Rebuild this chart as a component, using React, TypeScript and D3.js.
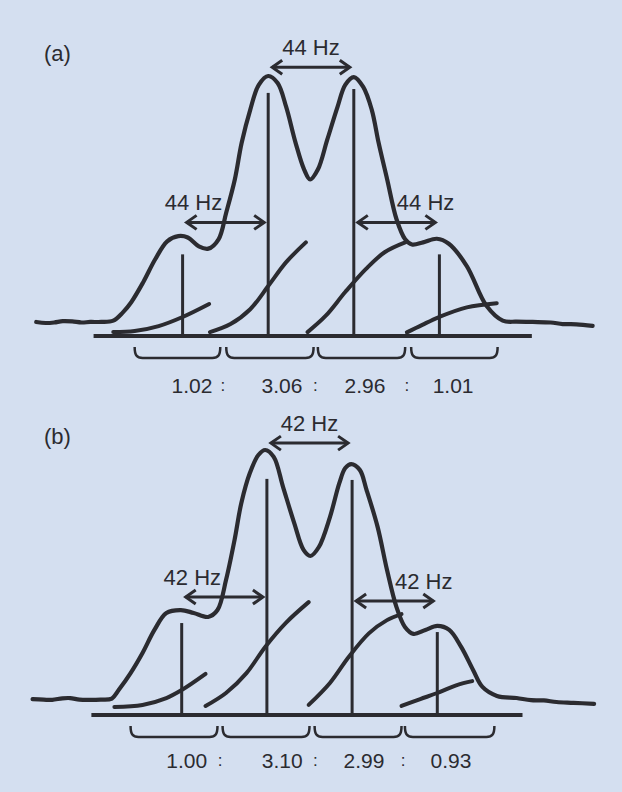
import React from "react";
import * as d3 from "d3";

// x in units of the coupling constant J (sticks at ±0.5, ±1.5), y in % of the tallest peak
const spectrumA: [number, number][] = [
  [-3.21, 5.4], [-3.1, 5.0], [-3.0, 5.2], [-2.9, 5.7], [-2.79, 5.6], [-2.68, 5.2], [-2.58, 5.4], [-2.45, 5.4], [-2.31, 5.9],
  [-2.2, 9.0], [-2.1, 13.0], [-1.96, 20.7], [-1.82, 29.5], [-1.68, 36.4], [-1.55, 38.4],
  [-1.44, 37.9], [-1.31, 34.5], [-1.2, 33.6], [-1.08, 37.2], [-0.99, 47.5], [-0.89, 60.2],
  [-0.81, 74.3], [-0.71, 87.0], [-0.61, 96.6], [-0.5, 100], [-0.39, 97.3], [-0.29, 88.1],
  [-0.18, 74.3], [-0.08, 64.0], [-0.01, 60.2], [0.08, 64.0], [0.19, 75.5], [0.31, 88.1],
  [0.4, 96.6], [0.5, 99.6], [0.61, 95.8], [0.71, 87.0], [0.79, 74.3], [0.89, 60.2],
  [1.0, 44.8], [1.1, 37.2], [1.18, 35.2], [1.31, 36.0], [1.47, 37.4], [1.61, 35.5],
  [1.82, 26.9], [2.05, 11.6], [2.24, 5.9], [2.4, 5.5], [2.59, 5.4], [2.8, 5.2], [2.94, 4.6], [3.1, 4.5], [3.29, 3.9],
];
const spectrumB: [number, number][] = [
  [-3.25, 6.0], [-3.12, 5.8], [-3.02, 5.7], [-2.9, 6.3], [-2.81, 6.4], [-2.7, 5.8], [-2.59, 5.7], [-2.45, 5.8], [-2.32, 6.2],
  [-2.24, 9.4], [-2.1, 15.8], [-1.96, 23.4], [-1.82, 32.1], [-1.68, 38.5], [-1.51, 39.6],
  [-1.36, 38.5], [-1.19, 37.0], [-1.08, 39.6], [-0.98, 50.9], [-0.88, 66.0], [-0.8, 80.0],
  [-0.7, 91.3], [-0.6, 98.1], [-0.52, 100], [-0.42, 97.4], [-0.31, 86.0], [-0.18, 72.5],
  [-0.07, 62.3], [0.01, 60.0], [0.11, 63.4], [0.24, 74.7], [0.35, 87.5], [0.42, 93.2],
  [0.49, 94.7], [0.59, 92.5], [0.67, 84.9], [0.8, 70.9], [0.91, 54.7], [1.02, 40.8],
  [1.12, 33.2], [1.22, 30.6], [1.36, 32.1], [1.5, 33.6], [1.64, 32.1], [1.78, 25.7],
  [1.92, 17.0], [2.03, 10.6], [2.2, 7.2], [2.43, 6.4], [2.6, 5.6], [2.75, 5.5], [2.9, 4.9], [3.1, 4.6], [3.34, 4.2],
];

// stick positions and heights
const sticksX = [-1.5, -0.5, 0.5, 1.5];
const sticksA = [31.4, 93.5, 95.0, 31.4];
const sticksB = [34.7, 89.1, 88.7, 31.3];

// integral traces
const integralsA: [number, number][][] = [
  [[-2.31, 1.5], [-2.06, 1.9], [-1.78, 3.8], [-1.5, 7.3], [-1.19, 12.3]],
  [[-1.18, 1.5], [-0.94, 4.6], [-0.71, 10.3], [-0.5, 19.2], [-0.29, 28.4], [-0.06, 36.0]],
  [[-0.04, 1.5], [0.17, 7.7], [0.4, 16.9], [0.64, 25.7], [0.86, 32.2], [1.1, 36.0]],
  [[1.12, 1.4], [1.3, 4.3], [1.49, 7.2], [1.82, 11.0], [2.17, 12.6]],
];
const integralsB: [number, number][][] = [
  [[-2.29, 3.0], [-1.96, 3.8], [-1.68, 6.4], [-1.5, 9.4], [-1.22, 15.5]],
  [[-1.22, 3.4], [-0.98, 8.3], [-0.74, 15.8], [-0.52, 25.7], [-0.28, 34.7], [-0.01, 42.6]],
  [[-0.01, 3.8], [0.24, 12.1], [0.46, 21.9], [0.7, 30.9], [0.91, 35.8], [1.08, 38.1]],
  [[1.08, 3.4], [1.3, 6.0], [1.5, 8.3], [1.73, 11.3], [1.91, 12.8]],
];

// integration regions (braces)
const bracesA: [number, number][] = [[-2.06, -1.06], [-0.99, 0.03], [0.08, 1.1], [1.17, 2.18]];
const bracesB: [number, number][] = [[-2.1, -1.08], [-1.02, 0.0], [0.06, 1.08], [1.12, 2.17]];

// integral ratios
const ratiosA = ["1.02", "3.06", "2.96", "1.01"];
const ratiosB = ["1.00", "3.10", "2.99", "0.93"];
const ratioPosA = [-1.39, -0.34, 0.63, 1.66];
const ratioPosB = [-1.44, -0.32, 0.64, 1.66];
const colonPosA = [-1.03, 0.05, 1.12];
const colonPosB = [-1.05, 0.07, 1.1];

// couplings: [from, to, height]
const couplingLabelA = "44 Hz";
const couplingLabelB = "42 Hz";
const couplingsA: [number, number, number][] = [[-0.5, 0.5, 103.4], [-1.5, -0.5, 43.7], [0.5, 1.5, 43.7]];
const couplingsB: [number, number, number][] = [[-0.5, 0.5, 102.6], [-1.5, -0.5, 44.5], [0.5, 1.5, 43.0]];

const axisA: [number, number] = [-2.54, 2.58];
const axisB: [number, number] = [-2.56, 2.5];

const W = 622;
const H = 792;
const BG = "#d4dff0";
const INK = "#2b2b30";
const FONT = "'Liberation Sans', Arial, Helvetica, sans-serif";

type PanelProps = {
  label: string;
  labelY: number;
  cx: number;
  sp: number;
  y0: number;
  y100: number;
  spectrum: [number, number][];
  sticks: number[];
  integrals: [number, number][][];
  braces: [number, number][];
  ratios: string[];
  ratioPos: number[];
  colonPos: number[];
  ratioY: number;
  couplings: [number, number, number][];
  couplingLabel: string;
  axis: [number, number];
};

function Panel(p: PanelProps) {
  const x = d3.scaleLinear().domain([0, 1]).range([p.cx, p.cx + p.sp]);
  const y = d3.scaleLinear().domain([0, 100]).range([p.y0, p.y100]);
  const line = d3
    .line<[number, number]>()
    .x((d) => x(d[0]))
    .y((d) => y(d[1]))
    .curve(d3.curveCatmullRom.alpha(0.5));

  const braceTop = p.y0 + 11;
  const braceBot = p.y0 + 22;

  return (
    <g>
      <text x={44} y={p.labelY} fontSize={22} fontFamily={FONT} fill={INK}>
        {p.label}
      </text>
      {/* axis */}
      <line x1={x(p.axis[0])} x2={x(p.axis[1])} y1={y(0)} y2={y(0)} stroke={INK} strokeWidth={4} />
      {/* sticks */}
      {sticksX.map((s, i) => (
        <line key={i} x1={x(s)} x2={x(s)} y1={y(0)} y2={y(p.sticks[i])} stroke={INK} strokeWidth={3} />
      ))}
      {/* integrals */}
      {p.integrals.map((seg, i) => (
        <path key={i} d={line(seg) || ""} fill="none" stroke={INK} strokeWidth={4} strokeLinecap="round" />
      ))}
      {/* spectrum */}
      <path d={line(p.spectrum) || ""} fill="none" stroke={INK} strokeWidth={4.2} strokeLinejoin="round" strokeLinecap="round" />
      {/* coupling arrows */}
      {p.couplings.map(([a, b, h], i) => {
        const x1 = x(a) + 4;
        const x2 = x(b) - 4;
        const yy = y(h);
        const tx = i === 0 ? (x1 + x2) / 2 : i === 1 ? (x1 + x2) / 2 - 32 : (x1 + x2) / 2 + 29;
        return (
          <g key={i}>
            <line x1={x1} x2={x2} y1={yy} y2={yy} stroke={INK} strokeWidth={3} />
            <path
              d={`M${x1 + 10},${yy - 7} L${x1},${yy} L${x1 + 10},${yy + 7} M${x2 - 10},${yy - 7} L${x2},${yy} L${x2 - 10},${yy + 7}`}
              fill="none"
              stroke={INK}
              strokeWidth={3}
              strokeLinejoin="miter"
            />
            <text x={tx} y={yy - 12} fontSize={22} fontFamily={FONT} fill={INK} textAnchor="middle">
              {p.couplingLabel}
            </text>
          </g>
        );
      })}
      {/* braces */}
      {p.braces.map(([a, b], i) => {
        const x1 = x(a);
        const x2 = x(b);
        return (
          <path
            key={i}
            d={`M${x1},${braceTop} C${x1},${braceBot - 3} ${x1 + 2},${braceBot} ${x1 + 8},${braceBot} L${x2 - 8},${braceBot} C${x2 - 2},${braceBot} ${x2},${braceBot - 3} ${x2},${braceTop}`}
            fill="none"
            stroke={INK}
            strokeWidth={2.5}
          />
        );
      })}
      {/* ratios */}
      {p.ratios.map((r, i) => (
        <text key={i} x={x(p.ratioPos[i])} y={p.ratioY} fontSize={21} fontFamily={FONT} fill={INK} textAnchor="middle">
          {r}
        </text>
      ))}
      {p.colonPos.map((c, i) => (
        <text key={i} x={x(c)} y={p.ratioY - 2} fontSize={17} fontFamily={FONT} fill={INK} textAnchor="middle">
          :
        </text>
      ))}
    </g>
  );
}

export default function App() {
  return (
    <svg width={W} height={H} style={{ position: "absolute", left: 0, top: 0, display: "block" }}>
      <rect x={0} y={0} width={W} height={H} fill={BG} />
      <Panel
        label="(a)"
        labelY={61}
        cx={311}
        sp={85.6}
        y0={336}
        y100={76}
        spectrum={spectrumA}
        sticks={sticksA}
        integrals={integralsA}
        braces={bracesA}
        ratios={ratiosA}
        ratioPos={ratioPosA}
        colonPos={colonPosA}
        ratioY={393}
        couplings={couplingsA}
        couplingLabel={couplingLabelA}
        axis={axisA}
      />
      <Panel
        label="(b)"
        labelY={444}
        cx={309.5}
        sp={85.2}
        y0={715}
        y100={450}
        spectrum={spectrumB}
        sticks={sticksB}
        integrals={integralsB}
        braces={bracesB}
        ratios={ratiosB}
        ratioPos={ratioPosB}
        colonPos={colonPosB}
        ratioY={768}
        couplings={couplingsB}
        couplingLabel={couplingLabelB}
        axis={axisB}
      />
    </svg>
  );
}
